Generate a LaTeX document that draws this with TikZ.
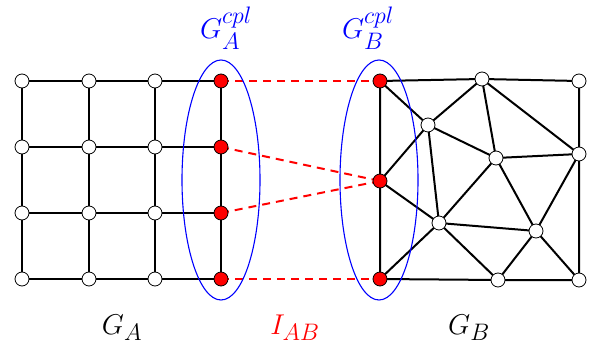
\documentclass[tikz,border=0pt]{standalone}
\usepackage{amsmath}
\usepackage{tikz}
\usetikzlibrary{positioning}

\newcommand{\biglbl}[1]{\scalebox{1.15}{$#1$}}

\begin{document}
\begin{tikzpicture}[x=1pt, y=-1pt,
    vtx/.style={circle, draw, fill=white, inner sep=0pt, minimum size=14pt, line width=0.8pt},
    cpl/.style={vtx, fill=red},
    edge/.style={line width=2pt},
    link/.style={red, line width=2pt, dash pattern=on 8pt off 6pt},
    sel/.style={blue, line width=1.1pt},
    lbl/.style={font=\Huge},
]
\useasboundingbox (0,0) rectangle (595,350);

% left mesh G_A (structured grid)
\foreach \i/\x in {1/22, 2/89, 3/155}
  \foreach \j/\y in {1/81, 2/147, 3/213, 4/279}
    \coordinate (a\i\j) at (\x,\y);
\foreach \j/\y in {1/81, 2/147, 3/213, 4/279}
  \coordinate (a4\j) at (221,\y);

\foreach \i in {1,2,3,4}
  \draw[edge] (a\i1) -- (a\i2) -- (a\i3) -- (a\i4);
\foreach \j in {1,2,3,4}
  \draw[edge] (a1\j) -- (a2\j) -- (a3\j) -- (a4\j);

% right mesh G_B (unstructured)
\coordinate (r1) at (380,81);
\coordinate (r2) at (380,181);
\coordinate (r3) at (380,279);
\coordinate (ma) at (482,79);
\coordinate (mb) at (579,81);
\coordinate (mc) at (428,125);
\coordinate (md) at (496,158);
\coordinate (me) at (579,154);
\coordinate (mf) at (439,223);
\coordinate (mg) at (536,231);
\coordinate (mh) at (498,280);
\coordinate (mi) at (579,280);

\draw[edge] (r1) -- (ma) -- (mb) -- (me) -- (mi) -- (mh) -- (r3) -- (r2) -- (r1);
\draw[edge] (r1) -- (mc) -- (ma) -- (md) -- (mc) -- (r2) -- (mf) -- (mc);
\draw[edge] (ma) -- (me) -- (md) -- (mf) -- (r3);
\draw[edge] (md) -- (mg) -- (me);
\draw[edge] (mf) -- (mg) -- (mh) -- (mf);
\draw[edge] (mg) -- (mi);

% interface I_AB
\draw[link] (a41) -- (r1);
\draw[link] (a42) -- (r2);
\draw[link] (a43) -- (r2);
\draw[link] (a44) -- (r3);

% vertices
\foreach \i in {1,2,3}
  \foreach \j in {1,2,3,4}
    \node[vtx] (va\i\j) at (a\i\j) {};
\foreach \j in {1,2,3,4}
  \node[cpl] (va4\j) at (a4\j) {};
\foreach \n in {r1,r2,r3}
  \node[cpl] (v\n) at (\n) {};
\foreach \n in {ma,mb,mc,md,me,mf,mg,mh,mi}
  \node[vtx] (v\n) at (\n) {};

% coupling subsets
\draw[sel] (221,180) ellipse (39 and 120);
\draw[sel] (379,180) ellipse (39 and 120);

% labels
\node[lbl, blue] (cplA) at (226,28) {\biglbl{G_A^{cpl}}};
\node[lbl, blue] (cplB) at (368,28) {\biglbl{G_B^{cpl}}};
\node[lbl] (gA) at (122,328) {\biglbl{G_A}};
\node[lbl, red] (iAB) at (295,328) {\biglbl{I_{AB}}};
\node[lbl] (gB) at (469,328) {\biglbl{G_B}};
\end{tikzpicture}
\end{document}
